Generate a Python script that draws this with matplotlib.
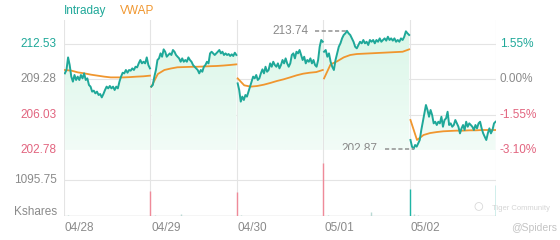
import matplotlib
matplotlib.use("Agg")
import matplotlib.pyplot as plt
from matplotlib.colors import LinearSegmentedColormap
import numpy as np

plt.rcParams["font.family"] = ["Liberation Sans", "DejaVu Sans"]

PREV_CLOSE = 209.28
days = ["04/28", "04/29", "04/30", "05/01", "05/02"]
price_ticks = [212.53, 209.28, 206.03, 202.78]
pct_ticks = ["1.55%", "0.00%", "-1.55%", "-3.10%"]
vol_tick = 1095.75

price_d1 = [209.83, 210.14, 211.30, 210.60, 209.53, 209.07, 209.68, 209.22, 209.53, 209.22,
            209.68, 209.37, 209.83, 209.22, 209.37, 208.76, 208.61, 208.15, 208.24, 207.99,
            208.15, 207.84, 207.93, 207.62, 207.93, 208.30, 208.61, 208.45, 208.67, 208.45,
            208.61, 208.30, 208.61, 208.45, 209.07, 209.53, 209.89, 209.83, 210.14, 209.89,
            210.14, 210.08, 210.29, 210.14, 210.44, 210.38, 210.75, 211.06, 210.75, 210.90,
            210.75, 211.30, 210.60, 210.29]
price_d2 = [208.61, 208.76, 209.53, 210.14, 211.06, 211.21, 211.67, 211.36, 212.04, 211.82,
            211.36, 211.52, 211.67, 211.52, 211.98, 211.82, 211.52, 211.36, 211.21, 210.90,
            211.21, 210.90, 211.06, 210.90, 211.30, 211.06, 210.90, 210.60, 210.44, 210.29,
            210.14, 209.83, 210.14, 209.98, 210.44, 210.60, 210.90, 210.75, 211.67, 211.82,
            211.67, 211.52, 211.67, 211.82, 211.98, 211.67, 211.82, 211.52, 211.67, 211.52,
            211.61, 211.43, 211.58, 211.43, 211.73, 211.52]
price_d3 = [208.91, 208.30, 207.23, 207.69, 207.38, 207.84, 207.69, 208.15, 208.61, 209.07,
            209.53, 209.37, 209.68, 209.22, 209.37, 209.83, 210.20, 209.83, 210.44, 209.98,
            210.14, 210.75, 210.44, 210.90, 210.60, 210.44, 210.75, 210.29, 210.60, 211.06,
            210.75, 211.21, 210.75, 210.44, 210.75, 211.52, 211.67, 211.21, 211.82, 211.67,
            211.98, 211.52, 211.06, 211.36, 210.75, 211.06, 210.90, 211.21, 210.75, 211.06,
            210.60, 210.44, 211.06, 212.28, 212.90, 212.74]
price_d4 = [211.82, 211.98, 211.36, 211.67, 210.90, 210.44, 210.14, 211.06, 211.67, 212.28,
            212.59, 213.05, 213.36, 213.51, 213.74, 213.51, 213.36, 213.05, 212.74, 212.28,
            212.13, 212.44, 212.74, 212.59, 212.90, 212.59, 212.74, 212.44, 212.90, 212.74,
            212.90, 212.59, 212.90, 212.74, 213.05, 212.74, 212.90, 213.05, 212.84, 213.20,
            212.90, 213.05, 212.84, 213.05, 212.74, 212.90, 212.74, 213.05, 212.90, 213.20,
            213.70, 213.51, 213.36]
price_d5 = [203.70, 203.09, 202.87, 203.24, 203.09, 203.39, 203.70, 204.62, 205.38, 206.15,
            206.92, 206.46, 205.84, 206.46, 206.00, 205.23, 205.38, 205.08, 205.38, 205.23,
            205.84, 204.92, 205.54, 205.69, 206.30, 205.08, 205.23, 204.92, 205.08, 205.54,
            205.23, 204.92, 204.31, 204.77, 205.08, 204.62, 205.38, 204.92, 205.23, 205.08,
            204.92, 204.62, 205.08, 204.77, 205.23, 205.38, 204.77, 204.31, 204.00, 203.70,
            204.31, 204.77, 204.31, 204.62, 205.23, 205.38]

vwap_d1 = [210.14, 210.08, 209.92, 209.83, 209.71, 209.62, 209.53, 209.46, 209.46, 209.46,
           209.49, 209.53, 209.56, 209.62]
vwap_d2 = [208.60, 209.77, 210.14, 210.28, 210.39, 210.41, 210.43, 210.44, 210.46, 210.49,
           210.51, 210.55, 210.60, 210.66]
vwap_d3 = [209.37, 208.73, 208.61, 208.67, 208.79, 208.95, 209.13, 209.28, 209.46, 209.65,
           209.80, 209.89, 209.95, 210.14]
vwap_d4 = [209.37, 210.66, 210.94, 211.30, 211.52, 211.61, 211.64, 211.67, 211.70, 211.73,
           211.76, 211.79, 211.82, 212.04]
vwap_d5 = [205.54, 203.70, 204.16, 204.34, 204.43, 204.50, 204.53, 204.56, 204.56, 204.59,
           204.59, 204.62, 204.62, 204.62]

vol_d1 = [40, 15, 10, 8, 6, 5, 5, 5, 4, 4, 5, 6, 5, 5, 6, 7, 8, 10, 15, 766]
vol_d2 = [40, 15, 8, 6, 5, 5, 60, 5, 4, 4, 5, 5, 5, 5, 6, 6, 8, 10, 15, 735]
vol_d3 = [45, 15, 8, 6, 5, 5, 5, 4, 4, 4, 5, 5, 5, 5, 6, 6, 8, 10, 15, 1614]
vol_d4 = [40, 15, 8, 6, 5, 5, 5, 5, 4, 4, 114, 5, 5, 5, 6, 6, 8, 10, 15, 838]
vol_d5 = [60, 30, 15, 8, 6, 5, 5, 5, 4, 4, 5, 5, 5, 5, 6, 6, 8, 10, 15, 962]
close_up = [False, False, False, True, True]

TEAL = "#1fa899"
ORANGE = "#f0962e"
PINK = "#e2647f"
GRAY = "#8a8a8a"
GRID = "#e4e4e4"

prices = [price_d1, price_d2, price_d3, price_d4, price_d5]
vwaps = [vwap_d1, vwap_d2, vwap_d3, vwap_d4, vwap_d5]
vols = [vol_d1, vol_d2, vol_d3, vol_d4, vol_d5]

fig = plt.figure(figsize=(5.6, 2.4), dpi=100)
ax = fig.add_axes([64 / 560, 1 - 150 / 240, 432 / 560, 130 / 240])
axv = fig.add_axes([64 / 560, 1 - 216 / 240, 432 / 560, 66 / 240])
ymin, ymax = 202.78, 214.74

# gradient for the area under the intraday line
grad = np.linspace(0, 1, 100).reshape(-1, 1)
cmap = LinearSegmentedColormap.from_list("g", ["#f2fcf7", "#d8f6e7"])

for d in range(5):
    p = np.array(prices[d])
    x = d + np.linspace(0.01, 0.995, len(p))
    poly = ax.fill_between(x, p, ymin, color="none", lw=0)
    im = ax.imshow(grad, extent=[d, d + 1, ymin, ymax], origin="lower", aspect="auto",
                   cmap=cmap, zorder=1)
    im.set_clip_path(poly.get_paths()[0], transform=ax.transData)
    ax.plot(x, p, color=TEAL, lw=1.4, zorder=3)
    vw = np.array(vwaps[d])
    xv = d + np.linspace(0.01, 0.995, len(vw))
    ax.plot(xv, vw, color=ORANGE, lw=1.3, zorder=2)

    v = np.array(vols[d])
    xb = d + np.linspace(0.05, 1.0, len(v))
    cols = ["#b9d9d4"] * (len(v) - 1) + ["#1fb5a5" if close_up[d] else "#ef8a99"]
    axv.vlines(xb, 0, v, colors=cols, lw=1.0, zorder=3)

for a in (ax, axv):
    a.set_xlim(0, 5)
    for s in a.spines.values():
        s.set_visible(False)
    a.set_xticks([])
    a.set_yticks([])
    for d in range(6):
        a.axvline(d, color=GRID, lw=0.8, zorder=0)

ax.set_ylim(ymin, ymax)
for yv in price_ticks:
    ax.axhline(yv, color=GRID, lw=0.8, zorder=0)

axv.set_ylim(0, 2027)
axv.axhline(vol_tick, color=GRID, lw=0.8, zorder=0)
axv.axhline(0, color="#d0d0d0", lw=1.0, zorder=0)

fs = 8.5
for yv, pt in zip(price_ticks, pct_ticks):
    c = TEAL if yv > PREV_CLOSE else (GRAY if yv == PREV_CLOSE else PINK)
    ax.text(-0.085, yv, f"{yv:.2f}", ha="right", va="center", fontsize=fs, color=c, clip_on=False)
    ax.text(5.045, yv, pt, ha="left", va="center", fontsize=fs, color=c, clip_on=False)

axv.text(-0.085, vol_tick, f"{vol_tick:.2f}", ha="right", va="center", fontsize=fs, color=GRAY)
axv.text(-0.085, 130, "Kshares", ha="right", va="center", fontsize=fs, color=GRAY)

for d, lab in enumerate(days):
    axv.text(d + 0.01, -170, lab, ha="left", va="top", fontsize=fs, color=GRAY, clip_on=False)

fig.text(64 / 560, 1 - 11 / 240, "Intraday", ha="left", va="center", fontsize=fs, color=TEAL)
fig.text(120 / 560, 1 - 11 / 240, "VWAP", ha="left", va="center", fontsize=fs, color=ORANGE)

# high / low markers
hi = max(price_d4)
hi_x = 3 + np.linspace(0.01, 0.995, len(price_d4))[price_d4.index(hi)]
ax.plot([hi_x - 0.37, hi_x], [hi, hi], color="#999999", lw=1.2, ls=(0, (2.5, 1.5)), zorder=4)
ax.text(hi_x - 0.44, hi, f"{hi:.2f}", ha="right", va="center", fontsize=fs, color=GRAY)
lo = min(price_d5)
lo_x = 4 + np.linspace(0.01, 0.995, len(price_d5))[price_d5.index(lo)]
ax.plot([lo_x - 0.33, lo_x], [lo, lo], color="#999999", lw=1.2, ls=(0, (2.5, 1.5)), zorder=4,
        clip_on=False)
ax.text(lo_x - 0.42, lo, f"{lo:.2f}", ha="right", va="center", fontsize=fs, color=GRAY)

# watermark
fig.text(478 / 560, 1 - 208 / 240, "\u25cb", ha="center", va="center", fontsize=14, color="#d8d8d8")
fig.text(492 / 560, 1 - 208 / 240, "Tiger Community", ha="left", va="center", fontsize=5.5,
         color="#d5d5d5")
fig.text(557 / 560, 1 - 228 / 240, "@Spiders", ha="right", va="center", fontsize=7.5,
         color="#c4c4c4")

fig.savefig("out.png", dpi=100, facecolor="white")
